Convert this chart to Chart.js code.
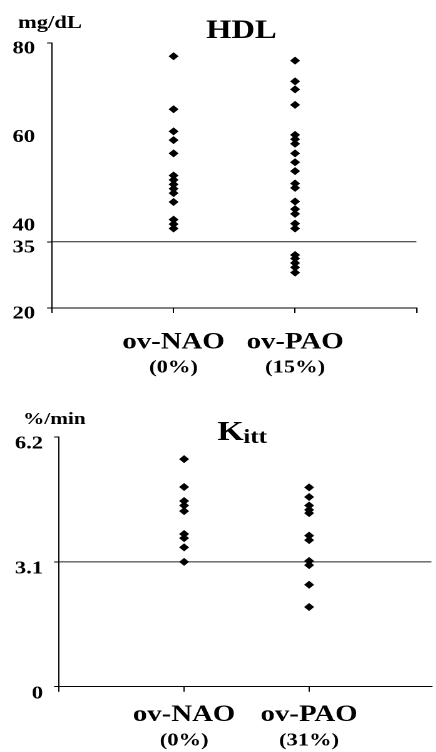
<!DOCTYPE html>
<html><head><meta charset="utf-8">
<script src="https://cdn.jsdelivr.net/npm/chart.js@4.4.1/dist/chart.umd.min.js"></script>
<style>
html,body{margin:0;padding:0;background:#fff;overflow:hidden;}
body{width:436px;height:752px;position:relative;}
.wrap{position:absolute;left:0;width:348.8px;transform:scaleX(1.25);transform-origin:0 0;}
#w1{top:0;height:390px;}
#w2{top:390px;height:362px;}
</style></head><body>
<div class="wrap" id="w1"><canvas id="c1"></canvas></div>
<div class="wrap" id="w2"><canvas id="c2"></canvas></div>
<script>
// ---- data ----
const categories = ['ov-NAO', 'ov-PAO'];
const hdlPercent = ['(0%)', '(15%)'];
const kittPercent = ['(0%)', '(31%)'];
const hdlNAO = [77, 65, 60, 58, 55, 50, 49, 48, 47, 46, 44, 40, 39, 38];
const hdlPAO = [76, 71.3, 69.5, 66, 59.2, 58.2, 57.2, 55, 53, 51, 48.2, 47.2, 44.1, 42.4, 41.3, 39.1, 38, 32, 31.2, 30.2, 29.2, 28];
const kittNAO = [5.65, 4.96, 4.61, 4.5, 4.36, 3.79, 3.69, 3.46, 3.1];
const kittPAO = [4.95, 4.71, 4.5, 4.39, 4.31, 3.75, 3.64, 3.12, 3.02, 2.53, 1.98];
const hdlTicks = [80, 60, 40, 35, 20];
const kittTicks = [6.2, 3.1, 0];
const hdlCutoff = 35;
const kittCutoff = 3.1;

// ---- helpers ----
const FAM = "'Liberation Serif', 'Times New Roman', serif";
const INK = '#000';

const textPlugin = {
  id: 'texts',
  afterDraw(chart, args, opts) {
    const ctx = chart.ctx;
    ctx.save();
    ctx.fillStyle = INK;
    ctx.textBaseline = 'alphabetic';
    (opts.items || []).forEach(it => {
      ctx.font = it.font;
      ctx.textAlign = it.align || 'left';
      ctx.fillText(it.text, it.x, it.y);
    });
    ctx.restore();
  }
};

function toPoints(idx, arr) { return arr.map(v => ({ x: idx, y: v })); }

function build(canvasId, cfg) {
  const xTickVals = cfg.xTicks;
  return new Chart(document.getElementById(canvasId), {
    type: 'scatter',
    data: {
      datasets: [
        { data: toPoints(1, cfg.nao), pointStyle: 'rectRot', pointRadius: 4, pointBorderWidth: 0,
          backgroundColor: '#000', borderColor: '#000', order: 0 },
        { data: toPoints(2, cfg.pao), pointStyle: 'rectRot', pointRadius: 4, pointBorderWidth: 0,
          backgroundColor: '#000', borderColor: '#000', order: 0 },
        { type: 'line', data: [{ x: 0, y: cfg.cutoff }, { x: cfg.xMax, y: cfg.cutoff }],
          borderColor: '#222', borderWidth: 1, pointRadius: 0, fill: false, order: 1 }
      ]
    },
    options: {
      responsive: true, maintainAspectRatio: false, animation: false,
      devicePixelRatio: 2, events: [],
      layout: { padding: { top: cfg.padTop, left: 0, right: 0, bottom: 0 } },
      plugins: {
        legend: { display: false }, tooltip: { enabled: false }, title: { display: false },
        texts: { items: cfg.texts }
      },
      scales: {
        y: {
          type: 'linear', min: cfg.yMin, max: cfg.yMax,
          afterBuildTicks: s => { s.ticks = cfg.yTicks.map(v => ({ value: v })); },
          afterFit: s => { s.width = cfg.yWidth; },
          ticks: { autoSkip: false, color: INK, font: { family: FAM, size: 18, weight: 'bold' },
                   padding: cfg.yPad, labelOffset: cfg.yLabelOffset, callback: v => String(v) },
          grid: { drawOnChartArea: false, tickLength: 4, color: INK,
                  tickColor: c => (cfg.yTickMarks.includes(c.tick.value) ? INK : 'rgba(0,0,0,0)') },
          border: { display: true, color: INK, width: 1 }
        },
        x: {
          type: 'linear', min: 0, max: cfg.xMax, position: 'bottom', weight: 0,
          afterBuildTicks: s => { s.ticks = xTickVals.map(v => ({ value: v })); },
          afterFit: s => { s.height = cfg.xH1; },
          ticks: { autoSkip: false, maxRotation: 0, minRotation: 0, color: INK,
                   font: { family: FAM, size: 23, weight: 'bold' }, padding: cfg.xPad1,
                   callback: v => (v >= 1 && v <= 2 ? categories[v - 1] : '') },
          grid: { drawOnChartArea: false, tickLength: 5, color: INK },
          border: { display: true, color: INK, width: 1 }
        },
        x2: {
          type: 'linear', min: 0, max: cfg.xMax, position: 'bottom', weight: 1,
          afterBuildTicks: s => { s.ticks = [1, 2].map(v => ({ value: v })); },
          afterFit: s => { s.height = cfg.xH2; },
          ticks: { autoSkip: false, maxRotation: 0, minRotation: 0, color: INK,
                   font: { family: FAM, size: 18, weight: 'bold' }, padding: cfg.xPad2,
                   callback: v => (v >= 1 && v <= 2 ? cfg.pct[v - 1] : '') },
          grid: { display: false, drawTicks: false },
          border: { display: false }
        }
      }
    },
    plugins: [textPlugin]
  });
}

build('c1', {
  nao: hdlNAO, pao: hdlPAO, cutoff: hdlCutoff, pct: hdlPercent,
  yMin: 20, yMax: 80, yTicks: hdlTicks, yTickMarks: [80, 35, 20],
  xMax: 3, xTicks: [0, 1, 2, 3],
  padTop: 43, yWidth: 41.6, yPad: 9.6, yLabelOffset: 6,
  xH1: 49, xH2: 33, xPad1: 16, xPad2: 0,
  texts: [
    { text: 'mg/dL', x: 14.4, y: 28, font: `bold 18px ${FAM}` },
    { text: 'HDL', x: 192.8, y: 38, align: 'center', font: `bold 26px ${FAM}` }
  ]
});

build('c2', {
  nao: kittNAO, pao: kittPAO, cutoff: kittCutoff, pct: kittPercent,
  yMin: 0, yMax: 6.2, yTicks: kittTicks, yTickMarks: [6.2, 3.1, 0],
  xMax: 2.98, xTicks: [0, 1, 2],
  padTop: 47, yWidth: 47.2, yPad: 8.8, yLabelOffset: 7,
  xH1: 36, xH2: 29.3, xPad1: 9.5, xPad2: 7.5,
  texts: [
    { text: '%/min', x: 18.4, y: 34, font: `bold 17px ${FAM}` },
    { text: 'K', x: 173.6, y: 50, font: `bold 27px ${FAM}` },
    { text: 'itt', x: 194.4, y: 53, font: `bold 20px ${FAM}` }
  ]
});
</script>
</body></html>
